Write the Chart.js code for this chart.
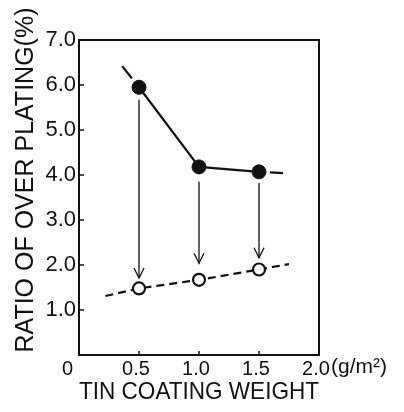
<!DOCTYPE html>
<html>
<head>
<meta charset="utf-8">
<script src="https://cdn.jsdelivr.net/npm/chart.js@4.4.1/dist/chart.umd.min.js"></script>
<style>
  html, body { margin: 0; padding: 0; background: #fff; }
  #wrap { width: 404px; height: 412px; }
</style>
</head>
<body>
<div id="wrap"><canvas id="chart"></canvas></div>
<script>
// Tin coating weight (g/m^2) and ratio of over plating (%)
const coating      = [0.5, 1.0, 1.5];
const beforeRatio  = [5.95, 4.18, 4.07];   // filled circles
const afterRatio   = [1.48, 1.67, 1.90];   // open circles

// trend line stubs
const beforeLead   = [{ x: 0.36, y: 6.42 }, { x: 0.44, y: 6.15 }];
const beforeTail   = [{ x: 1.59, y: 4.06 }, { x: 1.70, y: 4.04 }];
const afterStart   = { x: 0.22, y: 1.31 };
const afterEnd     = { x: 1.75, y: 2.02 };

// arrows between the two states
const arrowTop     = [5.67, 3.85, 3.82];
const arrowBottom  = [1.71, 2.04, 2.16];

// tick labels
const xTicks = [0, 0.5, 1.0, 1.5, 2.0];
const yTicks = [1, 2, 3, 4, 5, 6, 7];

const INK = '#111';
const sans = "'Liberation Sans', Arial, sans-serif";

const pts = (xs, ys) => xs.map((x, i) => ({ x: x, y: ys[i] }));

const datasets = [];

// solid line through filled points
datasets.push({
  data: pts(coating, beforeRatio),
  borderColor: INK, borderWidth: 2.2,
  pointRadius: 7, pointBackgroundColor: INK, pointBorderColor: INK, pointBorderWidth: 1
});
[beforeLead, beforeTail].forEach(seg => datasets.push({
  data: seg, borderColor: INK, borderWidth: 2.2, pointRadius: 0
}));

// dashed line through open points
datasets.push({
  data: [afterStart].concat(pts(coating, afterRatio), [afterEnd]),
  borderColor: INK, borderWidth: 2.2, borderDash: [8, 5],
  pointRadius: ctx => (ctx.dataIndex === 0 || ctx.dataIndex === coating.length + 1) ? 0 : 6,
  pointBackgroundColor: '#fff', pointBorderColor: INK, pointBorderWidth: 2.2
});

// vertical arrows
coating.forEach((x, i) => datasets.push({
  arrow: true,
  data: [{ x: x, y: arrowTop[i] }, { x: x, y: arrowBottom[i] }],
  borderColor: INK, borderWidth: 1.3, pointRadius: 0
}));

const framePlugin = {
  id: 'frame',
  afterDatasetsDraw(chart) {
    const ctx = chart.ctx;
    ctx.save();
    ctx.strokeStyle = INK;
    ctx.lineWidth = 1.3;
    chart.data.datasets.forEach((ds, i) => {
      if (!ds.arrow) return;
      const end = chart.getDatasetMeta(i).data[1];
      ctx.beginPath();
      ctx.moveTo(end.x - 5, end.y - 10);
      ctx.lineTo(end.x, end.y);
      ctx.lineTo(end.x + 5, end.y - 10);
      ctx.stroke();
    });
    ctx.restore();
  },
  afterDraw(chart) {
    const { ctx, chartArea: a, scales: { x, y } } = chart;
    ctx.save();
    ctx.strokeStyle = INK;
    ctx.lineWidth = 2;
    ctx.strokeRect(a.left, a.top, a.right - a.left, a.bottom - a.top);

    // inward tick marks
    ctx.lineWidth = 1.5;
    yTicks.forEach(v => {
      const py = y.getPixelForValue(v);
      ctx.beginPath(); ctx.moveTo(a.left, py); ctx.lineTo(a.left + 5, py); ctx.stroke();
    });
    xTicks.slice(1, -1).forEach(v => {
      const px = x.getPixelForValue(v);
      ctx.beginPath(); ctx.moveTo(px, a.bottom); ctx.lineTo(px, a.bottom - 4); ctx.stroke();
    });

    // y axis title
    ctx.fillStyle = INK;
    ctx.font = '25px ' + sans;
    ctx.textAlign = 'center';
    ctx.textBaseline = 'middle';
    ctx.translate(26, 180);
    ctx.rotate(-Math.PI / 2);
    ctx.fillText('RATIO OF OVER PLATING(%)', 0, 0);
    ctx.restore();

    // unit after the last x label
    ctx.save();
    ctx.fillStyle = INK;
    ctx.font = '21px ' + sans;
    ctx.textAlign = 'left';
    ctx.textBaseline = 'middle';
    ctx.fillText('(g/m²)', x.right + 12, a.bottom + 12);
    ctx.restore();
  }
};

new Chart(document.getElementById('chart'), {
  type: 'line',
  data: { datasets: datasets },
  options: {
    responsive: true,
    maintainAspectRatio: false,
    animation: false,
    events: [],
    layout: { padding: { top: 40, right: 85, bottom: 0, left: 0 } },
    plugins: { legend: { display: false }, tooltip: { enabled: false } },
    scales: {
      x: {
        type: 'linear', min: 0, max: 2,
        afterBuildTicks: s => { s.ticks = xTicks.map(v => ({ value: v })); },
        afterFit: s => { s.height = 57; },
        grid: { display: false, drawTicks: false },
        border: { display: false },
        ticks: {
          color: INK, padding: 2, labelOffset: -3,
          font: { family: sans, size: 20 },
          callback: v => v === 0 ? '0   ' : v.toFixed(1)
        },
        title: {
          display: true, text: 'TIN COATING WEIGHT', color: INK,
          font: { family: sans, size: 24 },
          padding: { top: 0, bottom: 5 }
        }
      },
      y: {
        type: 'linear', min: 0, max: 7,
        afterBuildTicks: s => { s.ticks = yTicks.map(v => ({ value: v })); },
        afterFit: s => { s.width = 79; },
        grid: { display: false, drawTicks: false },
        border: { display: false },
        ticks: {
          color: INK, padding: 3,
          font: { family: sans, size: 22 },
          callback: v => v.toFixed(1)
        }
      }
    }
  },
  plugins: [framePlugin]
});
</script>
</body>
</html>
